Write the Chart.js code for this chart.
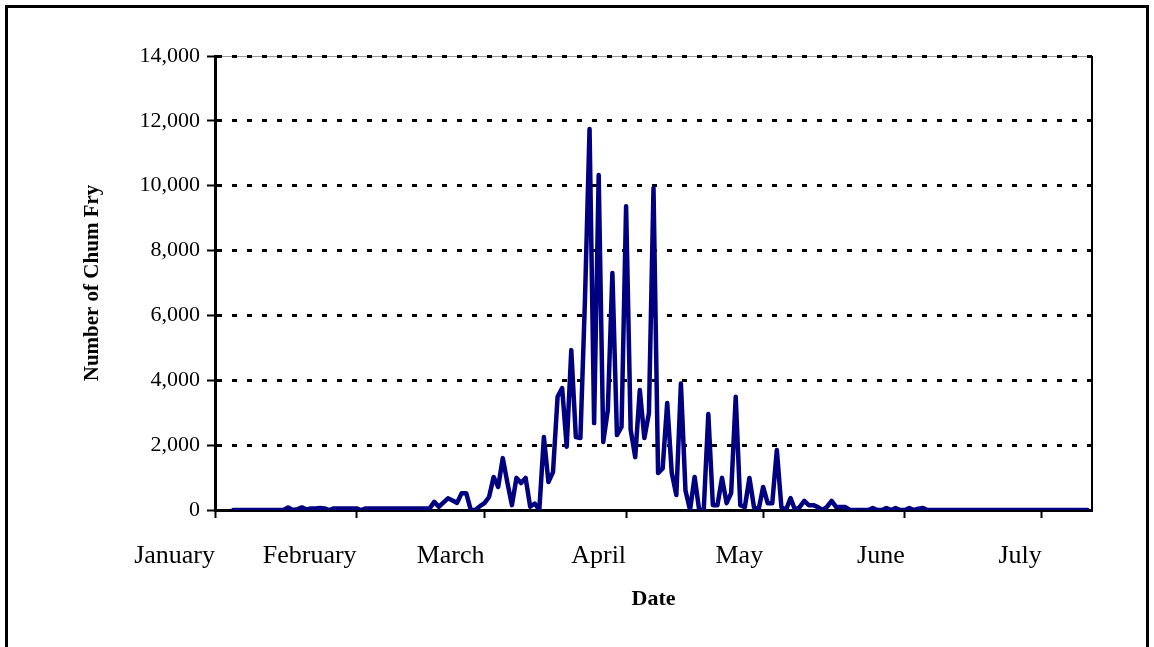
<!DOCTYPE html>
<html><head><meta charset="utf-8">
<script src="https://cdn.jsdelivr.net/npm/chart.js@4.4.1/dist/chart.umd.min.js"></script>
<style>html,body{margin:0;padding:0;background:#fff;}#wrap{position:relative;width:1154px;height:647px;}</style>
</head><body><div id="wrap"><canvas id="c" width="1154" height="647"></canvas></div>
<script>
// Day-of-year (0 = January 1) of the first daily count
const firstDay = 4;
// Daily counts of chum fry, one per day from firstDay
const counts = [
  0,0,0,0,0,0,0,0,0,0,0,0,            // days 4-15
  80,0,20,80,20,50,50,60,50,0,        // 16-25
  50,50,50,50,50,50,0,                // 26-32
  50,50,50,50,50,50,50,50,50,50,50,50,50,50, // 33-46
  50,250,100,230,360,290,220,520,520,0,      // 47-56
  0,120,210,400,1020,710,1600,850,150,990,   // 57-66
  830,990,100,200,0,2250,860,1170,3490,3760, // 67-76
  1950,4930,2250,2220,6500,11750,2680,10330,2100,3080, // 77-86
  7310,2310,2560,9370,2470,1630,3700,2220,2990,9930,   // 87-96
  1140,1280,3300,1140,460,3900,600,0,1020,0,           // 97-106
  0,2960,150,150,990,210,520,3490,150,90,              // 107-116
  990,90,0,710,210,210,1850,90,0,370,                  // 117-126
  0,90,280,150,150,90,0,100,280,90,                    // 127-136
  90,90,0,0,0,0,0,60,0,0,                              // 137-146
  60,0,60,0,0,60,0,40,60,0,                            // 147-156
  0,0,0,0,0,0,0,0,0,0,0,0,0,0,0,0,0,0,0,0,             // 157-176
  0,0,0,0,0,0,0,0,0,0,0,0,0,0,0                        // 177-191
];
const monthStarts = [0, 31, 59, 90, 120, 151, 181];
const monthLabels = ['January','February','March','April','May','June','July'];
const yTicks = [0, 2000, 4000, 6000, 8000, 10000, 12000, 14000];
const xMin = 0, xMax = 192;
const yMin = 0, yMax = 14000;

const points = counts.map((v, i) => ({x: firstDay + i, y: v}));

const framePlugin = {
  id: 'frame',
  beforeDraw(chart) {
    const {ctx, chartArea: a} = chart;
    ctx.save();
    ctx.strokeStyle = '#9a9a9a'; ctx.lineWidth = 1;
    ctx.beginPath(); ctx.moveTo(a.left, a.top + 0.5); ctx.lineTo(a.right, a.top + 0.5); ctx.stroke();
    ctx.restore();
  },
  beforeDatasetsDraw(chart) {
    const {ctx, chartArea: a} = chart;
    ctx.save();
    ctx.strokeStyle = '#000'; ctx.lineWidth = 2;
    ctx.beginPath(); ctx.moveTo(a.right, a.top); ctx.lineTo(a.right, a.bottom); ctx.stroke();
    ctx.restore();
  },
  afterDraw(chart) {
    const ctx = chart.ctx;
    ctx.save();
    ctx.strokeStyle = '#000'; ctx.lineWidth = 3;
    ctx.strokeRect(6.5, 6.5, 1141, 700);
    ctx.restore();
  }
};

const serif = "'Liberation Serif','Times New Roman',serif";
new Chart(document.getElementById('c'), {
  type: 'line',
  data: { datasets: [{
    data: points,
    borderColor: '#000080',
    borderWidth: 4.5,
    pointRadius: 0,
    tension: 0,
    fill: false,
    borderJoinStyle: 'round',
    borderCapStyle: 'round'
  }]},
  options: {
    responsive: false,
    animation: false,
    devicePixelRatio: 1,
    layout: { padding: { left: 80, top: 56, right: 62, bottom: 34 } },
    plugins: { legend: { display: false }, tooltip: { enabled: false } },
    scales: {
      x: {
        type: 'linear', min: xMin, max: xMax,
        afterBuildTicks: s => { s.ticks = monthStarts.map(v => ({value: v})); },
        afterFit: s => { s.height = 103; },
        grid: { drawOnChartArea: false, drawTicks: true, tickLength: 8, tickColor: '#000', tickWidth: 2 },
        border: { color: '#000', width: 3 },
        ticks: {
          autoSkip: false, maxRotation: 0, minRotation: 0, align: 'end', padding: 23,
          color: '#000', font: { family: serif, size: 26 },
          callback: (v) => { const i = monthStarts.indexOf(v); return i >= 0 ? monthLabels[i] : ''; }
        },
        title: { display: true, text: 'Date', color: '#000', padding: 0,
                 font: { family: serif, size: 22, weight: 'bold' } }
      },
      y: {
        min: yMin, max: yMax,
        afterBuildTicks: s => { s.ticks = yTicks.map(v => ({value: v})); },
        afterFit: s => { s.width = 135; },
        grid: { color: '#000', lineWidth: 3, drawTicks: true, tickLength: 8,
                tickColor: '#000', tickWidth: 2, tickBorderDash: [] },
        border: { color: '#000', width: 3, dash: [5, 10] },
        ticks: {
          padding: 7, color: '#000', font: { family: serif, size: 22 },
          callback: v => v.toLocaleString('en-US')
        },
        title: { display: true, text: 'Number of Chum Fry', color: '#000', padding: 0,
                 font: { family: serif, size: 21, weight: 'bold' } }
      }
    }
  },
  plugins: [framePlugin]
});
</script>
</body></html>
